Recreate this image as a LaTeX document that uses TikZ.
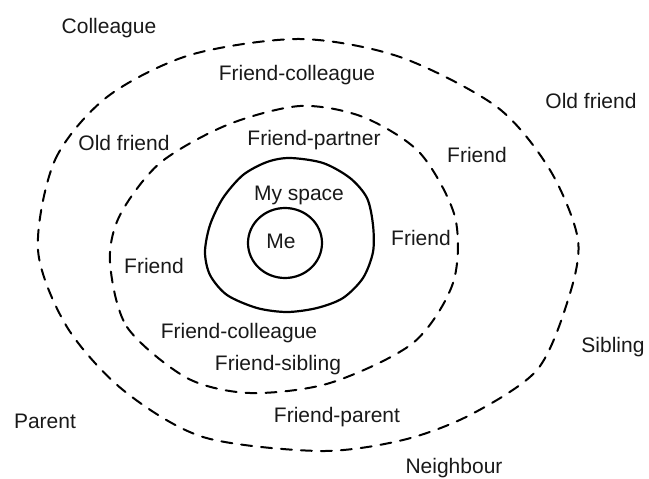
\documentclass[tikz,border=0pt]{standalone}
\usepackage{fontspec}
\setmainfont{Liberation Sans}
\usetikzlibrary{shapes.geometric}
\begin{document}
\begin{tikzpicture}[x=1pt,y=-1pt,
  lbl/.style={anchor=base,inner sep=0pt,font=\fontsize{21}{24}\selectfont,text=black!90},
  ring/.style={line width=2pt,dash pattern=on 11pt off 9pt,line cap=round},
  solidring/.style={line width=2.2pt}]
\useasboundingbox (0,0) rectangle (649,479);
% outer dashed ring
\draw[ring] plot[smooth cycle] coordinates {(38,250) (55,160) (107,97) (190,55) (300,39) (400,57) (497,107) (550,170) (578,240) (568,300) (537,370) (470,415) (403,440) (320,451) (203,437) (123,390) (67,327)};
% inner dashed ring
\draw[ring] plot[smooth cycle] coordinates {(110,262) (127,327) (187,378) (250,393) (330,383) (413,343) (453,283) (455,217) (420,153) (363,117) (300,106) (227,125) (160,163) (120,215)};
% my space
\draw[solidring] plot[smooth cycle] coordinates {(290,158) (323,163) (350,178) (367,198) (373,225) (373,252) (363,278) (343,298) (317,308) (287,312) (257,308) (227,295) (210,275) (205,252) (210,225) (223,198) (243,175) (267,162)};
% me
\node[ellipse,draw,solidring,minimum width=74pt,minimum height=70pt,inner sep=0pt] (meshape) at (285,243) {};
\node[lbl] (me) at (281,248) {Me};
\node[lbl] (myspace) at (299,200) {My space};
\node[lbl] (colleague) at (109,33) {Colleague};
\node[lbl] (fcolltop) at (297,80) {Friend-colleague};
\node[lbl] (oldfr) at (591,108) {Old friend};
\node[lbl] (oldfl) at (124,150) {Old friend};
\node[lbl] (fpartner) at (314,145) {Friend-partner};
\node[lbl] (friendr) at (477,162) {Friend};
\node[lbl] (friendir) at (421,245) {Friend};
\node[lbl] (friendl) at (154,273) {Friend};
\node[lbl] (fcollbot) at (239,338) {Friend-colleague};
\node[lbl] (fsibling) at (278,370) {Friend-sibling};
\node[lbl] (sibling) at (613,352) {Sibling};
\node[lbl] (parent) at (45,428) {Parent};
\node[lbl] (fparent) at (337,422) {Friend-parent};
\node[lbl] (neighbour) at (454,473) {Neighbour};
\end{tikzpicture}
\end{document}
